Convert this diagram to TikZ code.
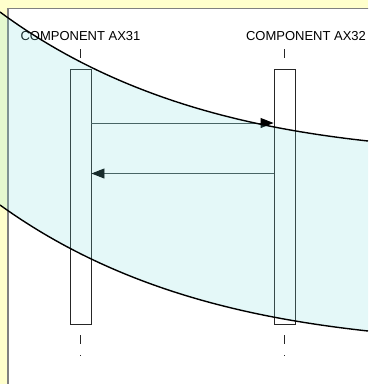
\documentclass[tikz,border=0pt]{standalone}
\usepackage{fontspec}
\setmainfont{Liberation Sans}
\usetikzlibrary{arrows.meta, positioning}

\definecolor{bgyellow}{HTML}{FFFFCC}
\definecolor{framegray}{HTML}{808080}
\definecolor{bandcyan}{HTML}{78DCDC}
\definecolor{msggray}{HTML}{3C4848}

\begin{document}
\begin{tikzpicture}[x=1pt,y=-1pt]
\tikzset{comp/.style = {font=\fontsize{13}{15}\selectfont, inner sep=0pt, anchor=base},
         actbox/.style = {draw=black!85, line width=0.9pt, minimum width=21pt, minimum height=255pt, inner sep=0pt},
         lifeline/.style = {draw=black!85, line width=0.9pt, dash pattern=on 9pt off 11pt},
         msg/.style = {draw=msggray, line width=0.9pt, -{Triangle[length=13pt,width=10pt,color=black]}},
         band/.style = {fill=bandcyan, fill opacity=0.2},
         bandedge/.style = {draw=black, line width=1.4pt}}
\useasboundingbox (0,0) rectangle (368,384);
\clip (0,0) rectangle (368,384);
% background and frame
\fill[bgyellow] (0,0) rectangle (368,384);
\filldraw[fill=white, draw=framegray, line width=1pt] (8,392) rectangle (376,8);
% components
\node[comp] (ax31) at (80.5,40) {COMPONENT AX31};
\node[comp] (ax32) at (306,40) {COMPONENT AX32};
\node[actbox] (box31) at (80.5,196.5) {};
\node[actbox] (box32) at (284.5,196.5) {};
\coordinate (top31) at (80.5,49);
\coordinate (top32) at (284.5,49);
\coordinate (end31) at (80.5,356);
\coordinate (end32) at (284.5,356);
% lifelines
\path[lifeline] (top31) -- (box31.north);
\path[lifeline] (top32) -- (box32.north);
\path[lifeline, dash phase=9pt] (box31.south) -- (end31);
\path[lifeline, dash phase=9pt] (box32.south) -- (end32);
% messages
\path[msg] (box31.east |- 0,123) -- (box32.west |- 0,123);
\path[msg] (box32.west |- 0,173.5) -- (box31.east |- 0,173.5);
% band
\fill[band] (0,12) .. controls (118,99) and (250,128) .. (368,141)
  -- (368,331) .. controls (250,318) and (118,290) .. (0,205) -- cycle;
\path[bandedge] (0,12) .. controls (118,99) and (250,128) .. (368,141);
\path[bandedge] (0,205) .. controls (118,290) and (250,318) .. (368,331);
\end{tikzpicture}
\end{document}
